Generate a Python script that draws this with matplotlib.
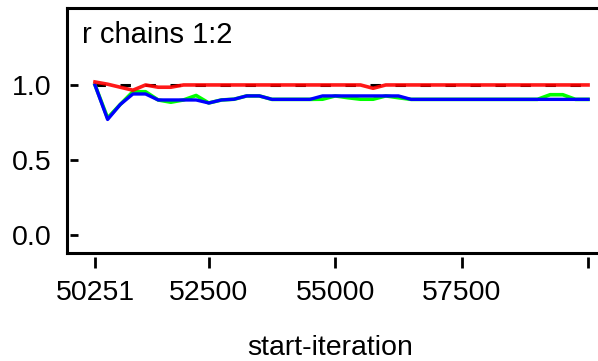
import matplotlib
matplotlib.use("Agg")
import matplotlib.pyplot as plt
import numpy as np

# ---- data ----
start_iter = [50251 + 250 * k for k in range(40)]
blue_vals = [1.00, 0.77, 0.87, 0.94, 0.94, 0.90, 0.90, 0.90, 0.90, 0.88,
             0.90, 0.905, 0.927, 0.927, 0.904, 0.904, 0.904, 0.904, 0.927, 0.927,
             0.927, 0.927, 0.927, 0.927, 0.927, 0.904, 0.904, 0.904, 0.904, 0.904,
             0.904, 0.904, 0.904, 0.904, 0.904, 0.904, 0.904, 0.904, 0.904, 0.904]
green_vals = [1.00, 0.78, 0.87, 0.955, 0.955, 0.90, 0.885, 0.90, 0.93, 0.88,
              0.90, 0.905, 0.927, 0.927, 0.904, 0.904, 0.904, 0.904, 0.905, 0.927,
              0.915, 0.905, 0.905, 0.927, 0.915, 0.904, 0.904, 0.904, 0.904, 0.904,
              0.904, 0.904, 0.904, 0.904, 0.904, 0.904, 0.935, 0.935, 0.904, 0.904]
red_vals = [1.02, 1.005, 0.985, 0.965, 1.0, 0.985, 0.985, 1.0, 1.0, 1.0,
            1.0, 1.0, 1.0, 1.0, 1.0, 1.0, 1.0, 1.0, 1.0, 1.0,
            1.0, 1.0, 0.978, 1.0, 1.0, 1.0, 1.0, 1.0, 1.0, 1.0,
            1.0, 1.0, 1.0, 1.0, 1.0, 1.0, 1.0, 1.0, 1.0, 1.0]
ref_vals = [1.0] * 40
x_ticks = [50251, 52500, 55000, 57500, 60001]
x_tick_labels = ["50251", "52500", "55000", "57500", ""]
y_ticks = [0.0, 0.5, 1.0]
y_tick_labels = ["0.0", "0.5", "1.0"]
title = "r chains 1:2"
xlabel = "start-iteration"

plt.rcParams['font.family'] = ['Liberation Sans', 'DejaVu Sans']
plt.rcParams['lines.scale_dashes'] = False

W, H = 598, 361
fig = plt.figure(figsize=(W / 100, H / 100), dpi=100)
left_px, right_px, top_px, bottom_px = 66.7, 610, 8.3, 252.7
ax = fig.add_axes([left_px / W, 1 - bottom_px / H, (right_px - left_px) / W, (bottom_px - top_px) / H])

ax.plot(start_iter, ref_vals, color='black', lw=2.2, dashes=(7.5, 10.5), zorder=2)
ax.plot(start_iter, green_vals, color='#00ff00', lw=2.6, zorder=3)
ax.plot(start_iter, blue_vals, color='#0000ff', lw=2.4, zorder=4)
ax.plot(start_iter, red_vals, color='#ff0000', lw=2.6, alpha=0.9, zorder=5)

x0 = 49692
x1 = 50251 + (right_px - 94.3) / (126.6 / 2500)
ax.set_xlim(x0, x1)
ax.set_ylim(-0.118, 1.511)

for s in ['left', 'bottom', 'right']:
    ax.spines[s].set_visible(False)
ax.spines['top'].set_linewidth(2.2)
ax.spines['left'].set_position(('outward', -2.4))
ax.spines['bottom'].set_position(('outward', 3.1))

# frame lines
ax.axvline(x0, color='black', lw=2.2, clip_on=False, zorder=6)
ax.axhline(-0.118, color='black', lw=2.2, clip_on=False, zorder=6)

ax.set_xticks(x_ticks)
ax.set_xticklabels(x_tick_labels)
ax.set_yticks(y_ticks)
ax.set_yticklabels(y_tick_labels)
ax.tick_params(axis='x', direction='out', length=8, width=2, pad=8.5, labelsize=20.5)
ax.tick_params(axis='y', direction='in', length=6, width=2, pad=13, labelsize=20.5)

fig.text(82 / W, 1 - 43 / H, title, fontsize=21, va='baseline', ha='left')
fig.text(330 / W, 1 - 355 / H, xlabel, fontsize=20.5, va='baseline', ha='center')

fig.savefig("out.png", dpi=100)
